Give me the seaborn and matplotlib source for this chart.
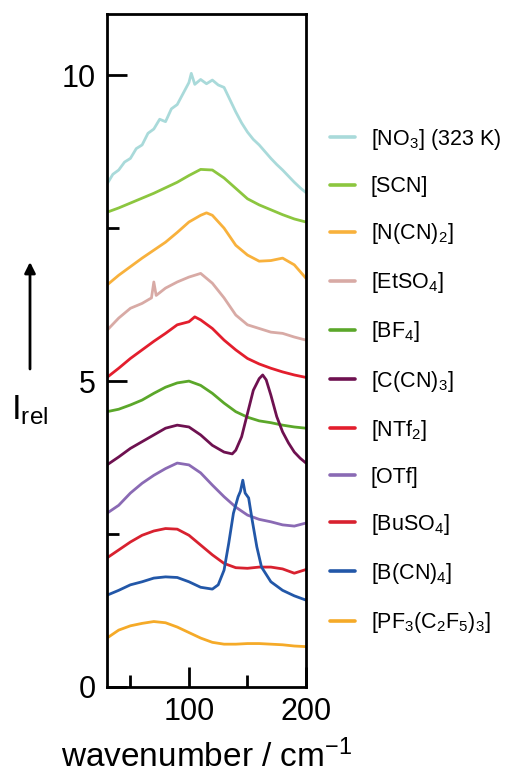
import numpy as np
import pandas as pd
import matplotlib
matplotlib.use("Agg")
import matplotlib.pyplot as plt
import seaborn as sns
from matplotlib.ticker import FixedLocator

# ---------------- data ----------------
anions = [
    "[NO$_3$] (323 K)", "[SCN]", "[N(CN)$_2$]", "[EtSO$_4$]", "[BF$_4$]",
    "[C(CN)$_3$]", "[NTf$_2$]", "[OTf]", "[BuSO$_4$]", "[B(CN)$_4$]",
    "[PF$_3$(C$_2$F$_5$)$_3$]",
]
colors = ["#a9dada", "#8cc63f", "#f8b13c", "#d8aaa5", "#5ba72a", "#6e1150",
          "#e31e2d", "#8a6ab4", "#d8212f", "#2257a8", "#f5aa28"]

x_grid = [30, 40, 50, 60, 70, 80, 90, 100, 110, 120, 130, 140, 150, 160, 170, 180, 190, 200]

x_no3 = [30, 35, 40, 45, 50, 55, 60, 65, 70, 75, 80, 85, 90, 95, 100, 102, 105, 110,
         115, 120, 125, 130, 135, 140, 145, 150, 155, 160, 165, 170, 175, 180, 185, 190, 195, 200]
y_no3 = [8.22, 8.38, 8.45, 8.58, 8.64, 8.80, 8.86, 9.05, 9.12, 9.28, 9.24, 9.45, 9.52, 9.70, 9.88, 10.03, 9.85, 9.93,
         9.86, 9.92, 9.84, 9.80, 9.60, 9.40, 9.22, 9.07, 8.95, 8.86, 8.75, 8.64, 8.54, 8.45, 8.35, 8.25, 8.16, 8.08]

y_scn = [7.76, 7.83, 7.91, 7.99, 8.07, 8.16, 8.25, 8.36, 8.46, 8.45, 8.32, 8.15, 7.98, 7.88, 7.80, 7.72, 7.65, 7.60]

x_ncn2 = [30, 40, 50, 60, 70, 80, 90, 100, 110, 115, 120, 130, 140, 150, 160, 170, 180, 190, 200]
y_ncn2 = [6.57, 6.73, 6.87, 7.01, 7.14, 7.27, 7.43, 7.60, 7.71, 7.75, 7.71, 7.50, 7.22, 7.06, 6.96, 6.97, 7.01, 6.90, 6.68]

x_etso4 = [30, 40, 50, 60, 68, 70, 72, 80, 90, 100, 110, 120, 130, 140, 150, 160, 170, 180, 190, 200]
y_etso4 = [5.83, 6.03, 6.19, 6.27, 6.36, 6.62, 6.40, 6.52, 6.62, 6.70, 6.76, 6.60, 6.36, 6.08, 5.92, 5.86, 5.80, 5.78, 5.72, 5.67]

x_ntf2 = [30, 40, 50, 60, 70, 80, 90, 100, 105, 110, 120, 130, 140, 150, 160, 170, 180, 190, 200]
y_ntf2 = [5.06, 5.21, 5.37, 5.51, 5.65, 5.78, 5.92, 5.97, 6.05, 6.00, 5.86, 5.67, 5.51, 5.37, 5.28, 5.21, 5.15, 5.10, 5.06]

y_bf4 = [4.50, 4.54, 4.61, 4.69, 4.80, 4.90, 4.97, 5.00, 4.93, 4.80, 4.64, 4.50, 4.41, 4.35, 4.32, 4.28, 4.25, 4.23]

x_ccn3 = [30, 40, 50, 60, 70, 80, 90, 100, 110, 120, 130, 137, 140, 145, 150, 155, 160, 163,
          166, 170, 175, 180, 185, 190, 195, 200]
y_ccn3 = [3.63, 3.76, 3.90, 4.01, 4.12, 4.23, 4.28, 4.25, 4.12, 3.95, 3.84, 3.81, 3.87, 4.09, 4.47, 4.85, 5.04, 5.10,
          5.02, 4.77, 4.42, 4.17, 3.99, 3.84, 3.74, 3.66]

y_otf = [2.84, 2.97, 3.17, 3.33, 3.46, 3.57, 3.66, 3.63, 3.50, 3.30, 3.11, 2.94, 2.81, 2.74, 2.70, 2.65, 2.63, 2.68]

y_buso4 = [2.11, 2.24, 2.37, 2.48, 2.55, 2.59, 2.58, 2.48, 2.32, 2.16, 2.02, 1.95, 1.94, 1.96, 1.96, 1.93, 1.86, 1.92]

x_bcn4 = [30, 40, 50, 60, 70, 80, 90, 100, 110, 120, 125, 130, 134, 138, 142, 144, 146, 148,
          151, 154, 158, 162, 170, 180, 190, 200]
y_bcn4 = [1.50, 1.58, 1.67, 1.72, 1.78, 1.80, 1.79, 1.72, 1.63, 1.60, 1.67, 1.91, 2.35, 2.84, 3.11, 3.20, 3.38, 3.17,
          3.09, 2.73, 2.29, 1.96, 1.72, 1.58, 1.49, 1.42]

y_pf3 = [0.80, 0.93, 1.00, 1.04, 1.07, 1.05, 0.98, 0.89, 0.80, 0.73, 0.70, 0.70, 0.71, 0.71, 0.70, 0.69, 0.67, 0.66]

series_x = [x_no3, x_grid, x_ncn2, x_etso4, x_grid, x_ccn3, x_ntf2, x_grid, x_grid, x_bcn4, x_grid]
series_y = [y_no3, y_scn, y_ncn2, y_etso4, y_bf4, y_ccn3, y_ntf2, y_otf, y_buso4, y_bcn4, y_pf3]

y_major = [0, 5, 10]
y_minor = [2.5, 7.5]
x_major = [100, 200]
x_minor = [50, 150]

# ---------------- build table ----------------
frames = []
for name, xs, ys in zip(anions, series_x, series_y):
    frames.append(pd.DataFrame({"wavenumber": xs, "I": ys, "anion": name}))
df = pd.concat(frames, ignore_index=True)

# ---------------- style ----------------
sns.set_theme(style="ticks")
plt.rcParams["font.family"] = ["Liberation Sans", "DejaVu Sans"]
plt.rcParams["mathtext.fontset"] = "custom"
plt.rcParams["mathtext.rm"] = "Liberation Sans"
plt.rcParams["mathtext.it"] = "Liberation Sans:italic"
plt.rcParams["mathtext.bf"] = "Liberation Sans:bold"
plt.rcParams["mathtext.default"] = "regular"
plt.rcParams["text.color"] = "black"
plt.rcParams["axes.labelcolor"] = "black"

fig = plt.figure(figsize=(5.07, 7.76), dpi=100)
ax = fig.add_axes([107 / 507, 1 - 687 / 776, (306 - 107) / 507, (687 - 14) / 776])

sns.lineplot(data=df, x="wavenumber", y="I", hue="anion", hue_order=anions,
             palette=dict(zip(anions, colors)), estimator=None, sort=False,
             linewidth=2.0, ax=ax)

ax.set_xlim(30, 200)
ax.set_ylim(0, 11)
ax.yaxis.set_major_locator(FixedLocator(y_major))
ax.yaxis.set_minor_locator(FixedLocator(y_minor))
ax.xaxis.set_major_locator(FixedLocator(x_major))
ax.xaxis.set_minor_locator(FixedLocator(x_minor))
ax.tick_params(which="both", direction="in", width=2, color="black",
               top=False, right=False, labelcolor="black")
ax.tick_params(which="major", length=14.5, labelsize=22)
ax.tick_params(which="minor", length=8.5)
ax.tick_params(axis="y", which="major", pad=8)
ax.tick_params(axis="x", which="major", pad=7)
for s in ax.spines.values():
    s.set_linewidth(2)
    s.set_color("black")
    s.set_visible(True)

ax.set_xlabel("wavenumber / cm$^{-1}$", fontsize=24, color="black", labelpad=9)
ax.set_ylabel("")

# legend outside to the right
leg = ax.get_legend()
handles = list(leg.legend_handles)
labels = [t.get_text() for t in leg.get_texts()]
leg.remove()
for h in handles:
    h.set_linewidth(2.6)
fig.legend(handles, labels, loc="upper left", bbox_to_anchor=(330 / 507, 1 - 127 / 776),
           frameon=False, fontsize=15.5, handlelength=1.15, handletextpad=0.75,
           labelspacing=1.12, borderpad=0, borderaxespad=0, labelcolor="black")

# y label: arrow + I_rel
fig.text(30 / 507, 1 - 419 / 776, "I$_{rel}$", fontsize=25, ha="center", va="baseline", color="black")
ax.annotate("", xy=(30 / 507, 1 - 262 / 776), xytext=(30 / 507, 1 - 369 / 776),
            xycoords="figure fraction", textcoords="figure fraction",
            arrowprops=dict(arrowstyle="-|>", lw=2, color="black", mutation_scale=16,
                            shrinkA=0, shrinkB=0))

fig.savefig("out.png", dpi=100)
